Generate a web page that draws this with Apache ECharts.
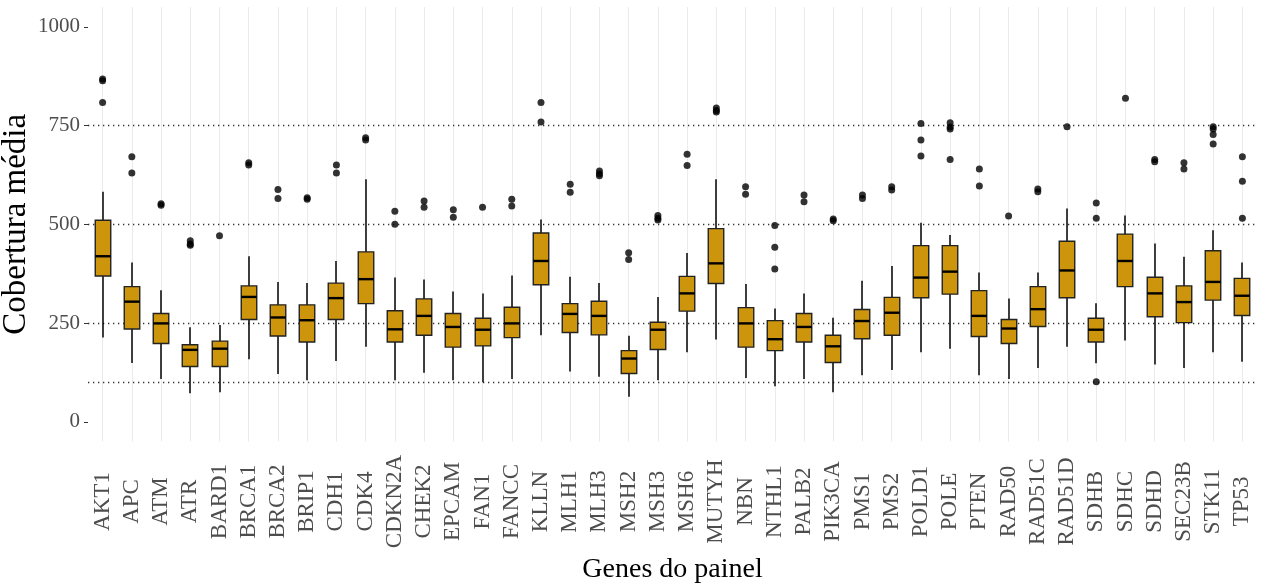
<!DOCTYPE html>
<html>
<head>
<meta charset="utf-8">
<script src="https://cdn.jsdelivr.net/npm/echarts@6/dist/echarts.min.js"></script>
<style>
  html, body { margin: 0; padding: 0; background: #ffffff; }
  #chart { width: 1267px; height: 584px; }
</style>
</head>
<body>
<div id="chart"></div>
<script>
// Mean coverage per panel gene: five-number summaries plus outliers
const genes = ['AKT1','APC','ATM','ATR','BARD1','BRCA1','BRCA2','BRIP1','CDH1','CDK4',
  'CDKN2A','CHEK2','EPCAM','FAN1','FANCC','KLLN','MLH1','MLH3','MSH2','MSH3',
  'MSH6','MUTYH','NBN','NTHL1','PALB2','PIK3CA','PMS1','PMS2','POLD1','POLE',
  'PTEN','RAD50','RAD51C','RAD51D','SDHB','SDHC','SDHD','SEC23B','STK11','TP53'];

const whiskerLow  = [213,149,108, 72, 75,158,121,105,154,190,105,124,105,100,108,219,127,114, 63,105,176,208,111, 90,108, 75,118,131,176,185,118,108,136,190,148,206,145,136,176,152];
const quartile1   = [369,235,198,140,140,259,217,202,259,299,202,219,189,192,213,347,226,220,122,183,280,350,189,180,202,150,210,219,314,323,216,198,241,314,202,342,266,251,308,269];
const medians     = [419,304,249,182,185,316,264,257,313,361,234,268,240,233,249,407,273,268,160,233,325,401,249,209,240,191,255,276,365,380,268,236,285,383,233,407,325,303,354,319];
const quartile3   = [510,342,274,195,204,344,296,296,351,430,281,311,274,262,290,478,299,305,180,252,368,489,289,256,274,219,284,315,446,446,332,259,342,457,262,475,366,344,433,363];
const whiskerHigh = [582,403,333,239,245,419,354,351,407,614,365,360,330,325,370,512,367,351,218,316,427,614,349,287,325,263,357,394,504,473,378,312,378,540,300,522,451,418,485,403];

const outlierGenes  = ['AKT1','AKT1','AKT1','APC','APC','ATM','ATM','ATR','ATR','ATR','BARD1','BRCA1','BRCA1',
  'BRCA2','BRCA2','BRIP1','BRIP1','CDH1','CDH1','CDK4','CDK4','CDKN2A','CDKN2A','CHEK2','CHEK2',
  'EPCAM','EPCAM','FAN1','FANCC','FANCC','KLLN','KLLN','MLH1','MLH1','MLH3','MLH3','MLH3',
  'MSH2','MSH2','MSH3','MSH3','MSH3','MSH6','MSH6','MUTYH','MUTYH','MUTYH','NBN','NBN',
  'NTHL1','NTHL1','NTHL1','PALB2','PALB2','PIK3CA','PIK3CA','PMS1','PMS1','PMS2','PMS2',
  'POLD1','POLD1','POLD1','POLE','POLE','POLE','POLE','PTEN','PTEN','RAD50','RAD51C','RAD51C',
  'RAD51D','SDHB','SDHB','SDHB','SDHC','SDHD','SDHD','SEC23B','SEC23B',
  'STK11','STK11','STK11','STK11','TP53','TP53','TP53'];
const outlierValues = [868,863,808,671,630,552,548,458,450,447,471,656,650,
  588,565,567,563,650,630,719,713,533,500,559,543,
  537,518,543,563,546,808,759,601,581,635,628,623,
  428,411,522,515,511,677,649,794,788,784,595,576,
  497,442,387,574,557,513,509,574,565,595,587,
  755,713,673,757,746,741,664,640,597,521,589,582,
  747,554,515,101,819,664,658,656,640,
  747,741,727,703,671,609,515];

const yTicks = [0, 250, 500, 750, 1000];
const referenceLines = [100, 250, 500, 750];

const serif = '"Liberation Serif", "DejaVu Serif", serif';

const boxData = genes.map((g, i) =>
  [i, whiskerLow[i], quartile1[i], medians[i], quartile3[i], whiskerHigh[i]]);
const outlierData = outlierGenes.map((g, i) => [g, outlierValues[i]]);

const chart = echarts.init(document.getElementById('chart'), null, { renderer: 'canvas' });

chart.setOption({
  backgroundColor: '#ffffff',
  animation: false,
  grid: { left: 88, right: 10, top: 7, bottom: 142.5, containLabel: false, outerBoundsMode: 'none' },
  xAxis: {
    type: 'category',
    data: genes,
    boundaryGap: true,
    name: 'Genes do painel',
    nameLocation: 'middle',
    nameGap: 114,
    nameMoveOverlap: false,
    nameTextStyle: { fontFamily: serif, fontSize: 28, color: '#000000' },
    axisLine: { show: false },
    axisTick: { show: true, alignWithLabel: true, length: 5, lineStyle: { color: '#333333', width: 1 } },
    axisLabel: {
      interval: 0, rotate: 90, margin: 60, align: 'center', verticalAlign: 'middle',
      fontFamily: serif, fontSize: 23, color: '#4d4d4d'
    },
    splitLine: { show: false }
  },
  yAxis: {
    type: 'value',
    min: -50,
    max: 1050,
    name: 'Cobertura média',
    nameLocation: 'middle',
    nameGap: 55,
    nameMoveOverlap: false,
    nameTextStyle: { fontFamily: serif, fontSize: 33, color: '#000000' },
    axisLine: { show: false },
    axisTick: { show: true, length: 4, customValues: yTicks, lineStyle: { color: '#333333', width: 1 } },
    axisLabel: {
      customValues: yTicks, margin: 8, fontFamily: serif, fontSize: 21, color: '#4d4d4d',
      formatter: v => String(v)
    },
    splitLine: { show: false }
  },
  series: [
    {
      // light vertical guides at each gene plus dotted reference levels
      type: 'line',
      data: [],
      silent: true,
      z: 0,
      markLine: {
        silent: true,
        symbol: ['none', 'none'],
        label: { show: false },
        animation: false,
        data: genes.map(g => ({ xAxis: g, lineStyle: { color: '#ebebeb', width: 1, type: 'solid' } }))
          .concat(referenceLines.map(v => ({ yAxis: v, lineStyle: { color: '#333333', width: 1.3, type: [1.3, 3.7] } })))
      }
    },
    {
      type: 'custom',
      z: 5,
      data: boxData,
      encode: { x: 0, y: [1, 2, 3, 4, 5] },
      renderItem: function (params, api) {
        const idx = api.value(0);
        const lo = api.coord([idx, api.value(1)]);
        const q1 = api.coord([idx, api.value(2)]);
        const md = api.coord([idx, api.value(3)]);
        const q3 = api.coord([idx, api.value(4)]);
        const hi = api.coord([idx, api.value(5)]);
        const cx = Math.round(lo[0]);
        const half = api.size([1, 0])[0] * 0.265;
        return {
          type: 'group',
          children: [
            { type: 'line', shape: { x1: cx, y1: lo[1], x2: cx, y2: hi[1] },
              style: { stroke: '#000000', lineWidth: 1.5 } },
            { type: 'rect', shape: { x: cx - half, y: q3[1], width: half * 2, height: q1[1] - q3[1] },
              style: { fill: '#CD950C', stroke: '#222222', lineWidth: 1.4 } },
            { type: 'line', shape: { x1: cx - half, y1: md[1], x2: cx + half, y2: md[1] },
              style: { stroke: '#000000', lineWidth: 2.4 } }
          ]
        };
      }
    },
    {
      type: 'scatter',
      z: 6,
      data: outlierData,
      symbol: 'circle',
      symbolSize: 7,
      itemStyle: { color: '#000000' }
    }
  ]
});
</script>
</body>
</html>
